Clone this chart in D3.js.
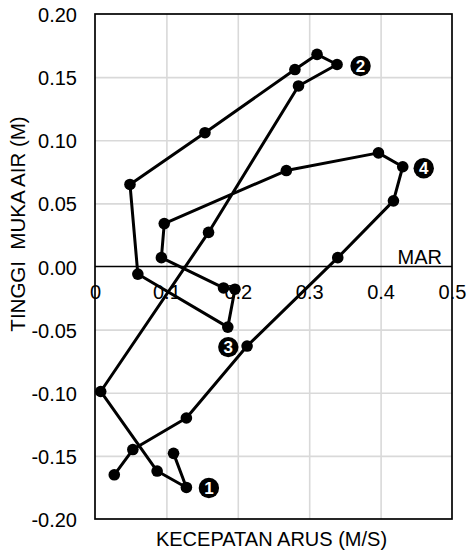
<!DOCTYPE html>
<html>
<head>
<meta charset="utf-8">
<script src="https://cdn.jsdelivr.net/npm/d3@7/dist/d3.min.js"></script>
<style>
  html, body { margin: 0; padding: 0; background: #fff; }
  svg { display: block; }
  text { font-family: "Liberation Sans", Arial, sans-serif; }
</style>
</head>
<body>
<script>
// Current speed (m/s) against water level (m), in time order over the tidal cycle
const speed = [0.110, 0.128, 0.087, 0.008, 0.159, 0.285, 0.339, 0.311, 0.280, 0.154,
               0.049, 0.060, 0.186, 0.196, 0.180, 0.093, 0.097, 0.268, 0.397, 0.431,
               0.418, 0.340, 0.213, 0.128, 0.053, 0.027];
const level = [-0.148, -0.175, -0.162, -0.099, 0.027, 0.143, 0.160, 0.168, 0.156, 0.106,
               0.065, -0.006, -0.048, -0.018, -0.017, 0.007, 0.034, 0.076, 0.090, 0.079,
               0.052, 0.007, -0.063, -0.120, -0.145, -0.165];

// Numbered phases and the observation each one marks
const phaseNames = ["1", "2", "3", "4"];
const phasePoints = [1, 6, 12, 19];

const xTickValues = [0, 0.1, 0.2, 0.3, 0.4, 0.5];
const xTickLabels = ["0", "0.1", "0.2", "0.3", "0.4", "0.5"];
const yTickValues = [-0.20, -0.15, -0.10, -0.05, 0.00, 0.05, 0.10, 0.15, 0.20];
const yTickLabels = ["-0.20", "-0.15", "-0.10", "-0.05", "0.00", "0.05", "0.10", "0.15", "0.20"];

const xTitle = "KECEPATAN ARUS (M/S)";
const yTitle = "TINGGI  MUKA AIR (M)";
const refLabel = "MAR";

const W = 467, H = 553;
const plot = { left: 95, right: 452, top: 14, bottom: 519 };
const FONT = 20;

const x = d3.scaleLinear().domain([0, 0.5]).range([plot.left, plot.right]);
const y = d3.scaleLinear().domain([-0.2, 0.2]).range([plot.bottom, plot.top]);

const svg = d3.select("body").append("svg")
  .attr("width", W).attr("height", H);

// Gridlines
svg.append("g")
  .attr("transform", `translate(0,${plot.top})`)
  .call(d3.axisBottom(x).tickValues(xTickValues.filter(v => v > 0 && v < 0.5))
    .tickSize(plot.bottom - plot.top).tickFormat(""))
  .call(g => g.select(".domain").remove())
  .call(g => g.selectAll("line").attr("stroke", "#d9d9d9").attr("stroke-width", 1.6));

svg.append("g")
  .attr("transform", `translate(${plot.left},0)`)
  .call(d3.axisRight(y).tickValues(yTickValues.filter(v => Math.abs(v) > 1e-9 && Math.abs(v) < 0.2 - 1e-9))
    .tickSize(plot.right - plot.left).tickFormat(""))
  .call(g => g.select(".domain").remove())
  .call(g => g.selectAll("line").attr("stroke", "#d9d9d9").attr("stroke-width", 1.6));

// Plot frame
svg.append("rect")
  .attr("x", plot.left).attr("y", plot.top)
  .attr("width", plot.right - plot.left).attr("height", plot.bottom - plot.top)
  .attr("fill", "none").attr("stroke", "#000").attr("stroke-width", 1.7);

// Zero (mean water level) line
svg.append("line")
  .attr("x1", plot.left).attr("x2", plot.right)
  .attr("y1", y(0)).attr("y2", y(0))
  .attr("stroke", "#000").attr("stroke-width", 1.3);

// Horizontal axis labels sit under the zero line
svg.append("g")
  .attr("transform", `translate(0,${y(0)})`)
  .call(d3.axisBottom(x).tickValues(xTickValues).tickSize(0).tickPadding(18)
    .tickFormat((d, i) => xTickLabels[i]))
  .call(g => g.select(".domain").remove())
  .call(g => g.selectAll("text").attr("font-size", FONT).attr("fill", "#000")
    .style("font-family", "'Liberation Sans', Arial, sans-serif"));

// Vertical axis labels
svg.append("g")
  .attr("transform", `translate(${plot.left},0)`)
  .call(d3.axisLeft(y).tickValues(yTickValues).tickSize(0).tickPadding(18)
    .tickFormat((d, i) => yTickLabels[i]))
  .call(g => g.select(".domain").remove())
  .call(g => g.selectAll("text").attr("font-size", FONT).attr("fill", "#000")
    .attr("dy", "0.38em")
    .style("font-family", "'Liberation Sans', Arial, sans-serif"));

// Reference label on the zero line
svg.append("text")
  .attr("x", plot.right - 10).attr("y", y(0) - 3)
  .attr("text-anchor", "end").attr("font-size", FONT)
  .text(refLabel);

// Axis titles
svg.append("text")
  .attr("x", (plot.left + plot.right) / 2 - 2).attr("y", 546)
  .attr("text-anchor", "middle").attr("font-size", FONT)
  .text(xTitle);

svg.append("text")
  .attr("transform", "translate(25,224) rotate(-90)")
  .attr("text-anchor", "middle").attr("font-size", FONT + 0.5)
  .style("white-space", "pre")
  .text(yTitle);

// Trajectory
const pts = speed.map((s, i) => [s, level[i]]);
svg.append("path")
  .datum(pts)
  .attr("d", d3.line().x(d => x(d[0])).y(d => y(d[1])))
  .attr("fill", "none").attr("stroke", "#000")
  .attr("stroke-width", 3).attr("stroke-linejoin", "round");

svg.append("g").selectAll("circle")
  .data(pts).join("circle")
  .attr("cx", d => x(d[0])).attr("cy", d => y(d[1]))
  .attr("r", 5.8).attr("fill", "#000");

// Phase badges beside their observations
const badgeOffset = [[22.5, 0.5], [23.5, 1.5], [0.5, 20], [21, 1.5]];
const badges = svg.append("g").selectAll("g")
  .data(phaseNames).join("g")
  .attr("transform", (d, i) => {
    const p = pts[phasePoints[i]];
    return `translate(${x(p[0]) + badgeOffset[i][0]},${y(p[1]) + badgeOffset[i][1]})`;
  });
badges.append("circle").attr("r", 10.2).attr("fill", "#000");
badges.append("text")
  .attr("text-anchor", "middle").attr("dy", "0.36em")
  .attr("font-size", 17).attr("font-weight", "bold").attr("fill", "#fff")
  .text(d => d);
</script>
</body>
</html>
